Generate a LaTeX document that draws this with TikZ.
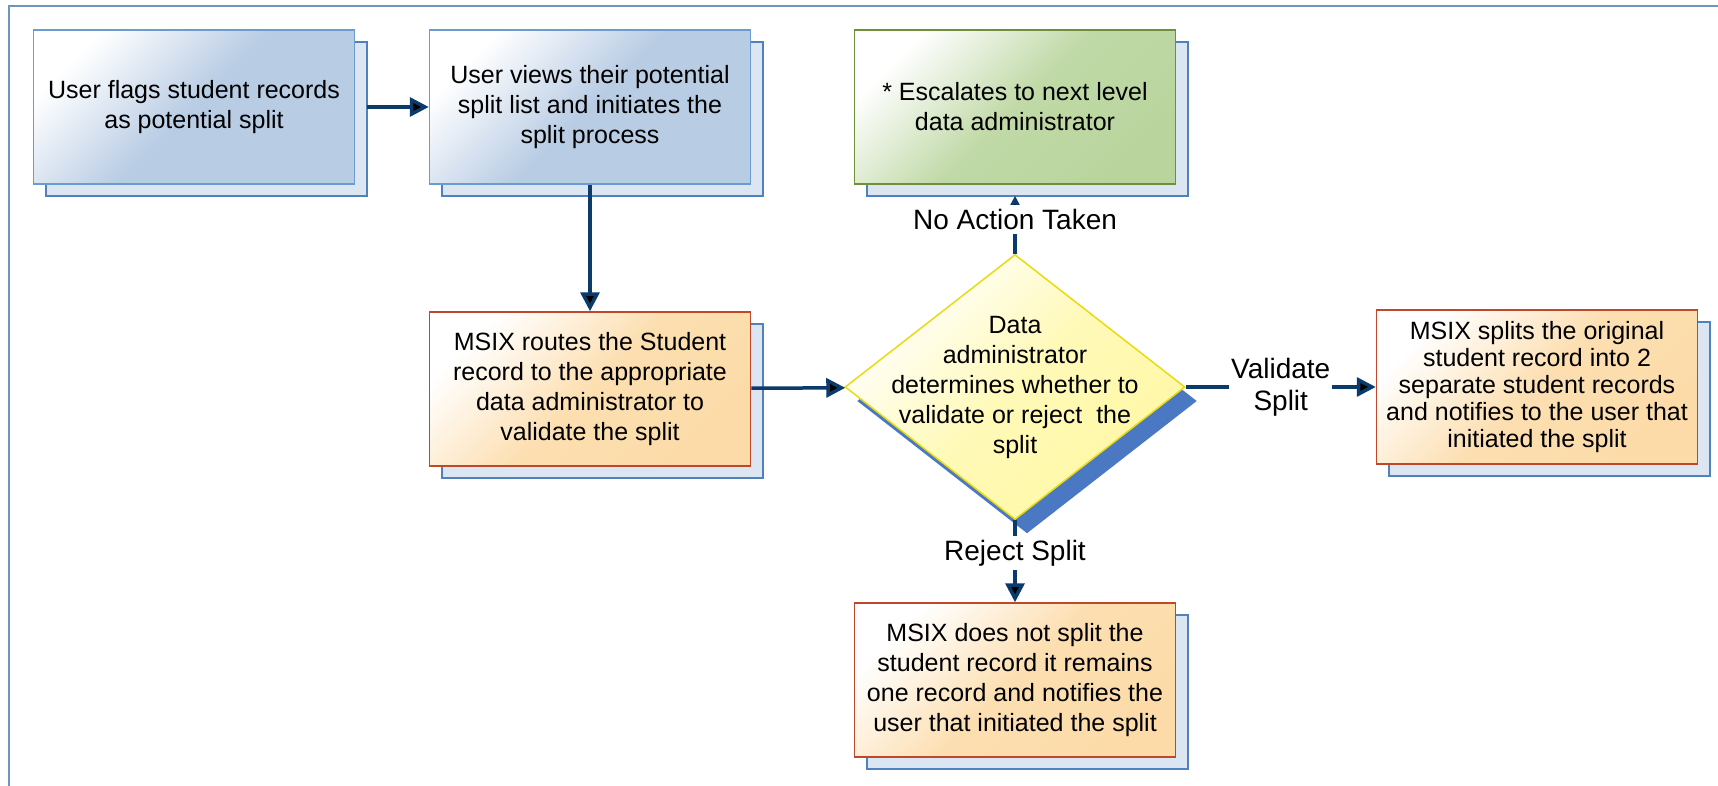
\documentclass[tikz,border=0pt]{standalone}
\usepackage{fontspec}
\setmainfont{Liberation Sans}
\usetikzlibrary{arrows.meta,shapes.geometric,shadows}

\definecolor{arrowblue}{HTML}{0B3A6C}
\definecolor{framecol}{HTML}{7094BC}
\definecolor{bluefill}{HTML}{B8CCE4}
\definecolor{blueedge}{HTML}{6C9BD2}
\definecolor{shadowfill}{HTML}{DCE6F2}
\definecolor{shadowedge}{HTML}{4F81BD}
\definecolor{greenfill}{HTML}{B9D59D}
\definecolor{greenedge}{HTML}{6F8F3A}
\definecolor{orangefill}{HTML}{FCDBA8}
\definecolor{orangeedge}{HTML}{C0482A}
\definecolor{yellowfill}{HTML}{FFF8A6}
\definecolor{yellowedge}{HTML}{E8DC10}
\definecolor{diashadow}{HTML}{4A78C2}

\begin{document}
\begin{tikzpicture}[
            x = 1pt, y = -1pt, % pixel grid, y going down
            > = {Triangle[length=19pt,width=19pt]}, % arrow head style
            flow/.style = {->, line width=3.5pt, draw=arrowblue},
            tag/.style = {fill=white, inner xsep=2pt, inner ysep=4pt, align=center, font=\fontsize{28}{32}\selectfont},
            box/.style = {rectangle, minimum width=321pt, minimum height=154pt, inner sep=0pt,
                          align=center, font=\fontsize{25}{30}\selectfont, line width=1.5pt,
                          general shadow={shadow xshift=12pt, shadow yshift=-12pt, fill=shadowfill, draw=shadowedge, line width=2pt}},
            userbox/.style = {box, draw=blueedge, top color=white, bottom color=bluefill, middle color=bluefill, shading angle=45},
            msixbox/.style = {box, draw=orangeedge, top color=white, bottom color=orangefill, middle color=orangefill!90!white, shading angle=45},
            escbox/.style = {box, draw=greenedge, top color=white, bottom color=greenfill, middle color=greenfill!90!white, shading angle=45},
            decision/.style = {diamond, minimum width=340pt, minimum height=265pt, inner sep=0pt, draw=yellowedge, line width=1.5pt,
                               top color=white, bottom color=yellowfill, middle color=yellowfill!80!white, shading angle=45,
                               general shadow={shadow xshift=12pt, shadow yshift=-14pt, fill=diashadow}}
        ]

\useasboundingbox (0,0) rectangle (1718,786);
\draw[framecol, line width=2pt] (9,786) -- (9,6) -- (1718,6);

\node[userbox] (flag) at (194,107) {User flags student records\\as potential split};
\node[userbox] (view) at (590,107) {User views their potential\\split list and initiates the\\split process};
\node[escbox] (escalate) at (1015,107) {* Escalates to next level\\data administrator};
\node[msixbox] (route) at (590,389) {MSIX routes the Student\\record to the appropriate\\data administrator to\\validate the split};
\node[decision] (dec) at (1015,387) {};
\node[align=center, font=\fontsize{25}{30}\selectfont] (dectext) at (dec.center) {Data\\administrator\\determines whether to\\validate or reject~ the\\split};
\node[msixbox, font=\fontsize{25}{27}\selectfont] (splitrec) at (1537,387) {MSIX splits the original\\student record into 2\\separate student records\\and notifies to the user that\\initiated the split};
\node[msixbox] (keeprec) at (1015,680) {MSIX does not split the\\student record it remains\\one record and notifies the\\user that initiated the split};

\path[flow, shorten <=12pt] (flag) edge (view);
\path[flow] (view) edge (route);
\path[flow] (route) edge (dec);
\path[flow, shorten >=11pt] (dec) edge node[tag] {No Action Taken} (escalate);
\path[flow] (dec) edge node[tag] {Validate\\Split} (splitrec);
\path[flow] (dec) edge node[tag, pos=0.4] {Reject Split} (keeprec);
\end{tikzpicture}
\end{document}
